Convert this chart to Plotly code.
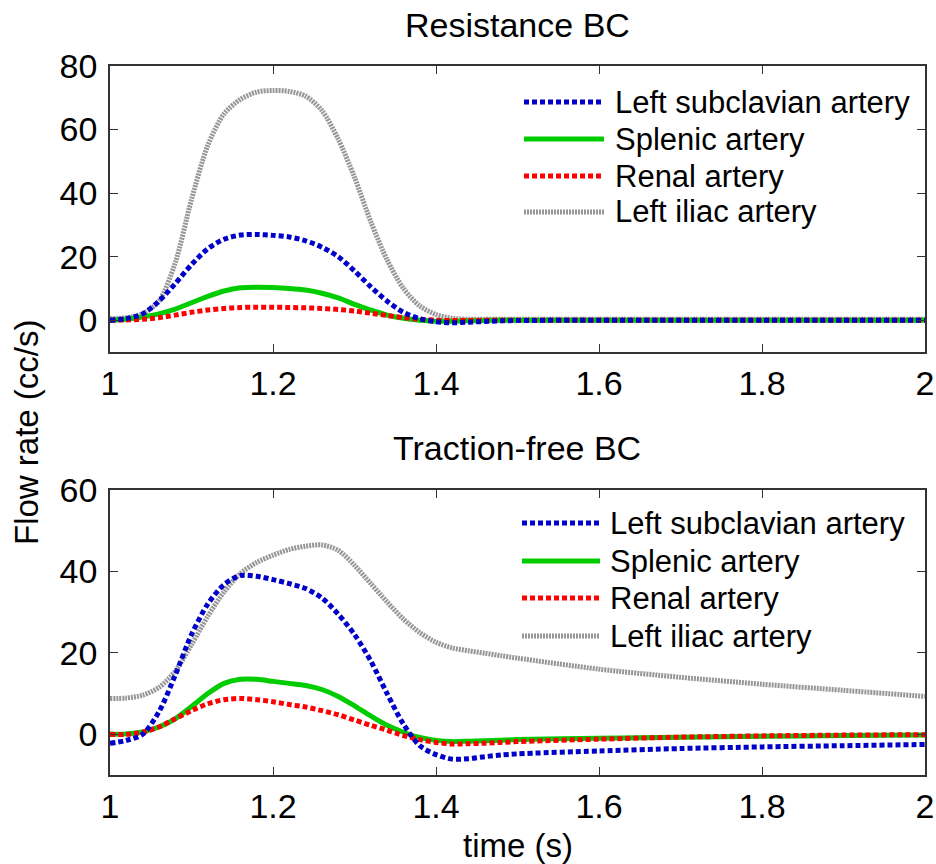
import plotly.graph_objects as go

# Sample times (s) shared by every series
time_s = [1.00, 1.02, 1.04, 1.06, 1.08, 1.10, 1.12, 1.14, 1.16, 1.18, 1.20,
          1.22, 1.24, 1.26, 1.28, 1.30, 1.32, 1.34, 1.36, 1.38, 1.40, 1.42,
          1.44, 1.46, 1.48, 1.50, 1.60, 1.70, 1.80, 1.90, 2.00]

series_names = ["Left subclavian artery", "Splenic artery", "Renal artery", "Left iliac artery"]

# Resistance BC flow rates (cc/s)
res_subclavian = [0, 0.5, 2, 6, 11.5, 17.5, 22.5, 25.5, 26.8, 27, 26.7,
                  26.2, 25, 23, 20, 15.5, 10.5, 6, 2.5, 0.5, -0.5, -0.8,
                  -0.6, -0.4, -0.2, -0.1, 0, 0, 0, 0, 0]
res_splenic = [0, 0.3, 1, 2, 3.5, 5.5, 7.5, 9.2, 10.2, 10.4, 10.3,
               10, 9.5, 8.5, 7, 5, 3.2, 1.6, 0.6, 0, -0.3, -0.3,
               -0.2, -0.1, 0, 0, 0, 0, 0, 0, 0]
res_renal = [0, 0.1, 0.3, 0.8, 1.6, 2.5, 3.2, 3.7, 4, 4.1, 4.1,
             4, 3.9, 3.7, 3.4, 2.9, 2.2, 1.5, 0.8, 0.3, 0, -0.1,
             -0.1, 0, 0, 0, 0, 0, 0, 0, 0]
res_iliac = [0.5, 0.8, 2, 6, 18, 38, 55, 65, 69.5, 71.8, 72.3,
             72, 70.5, 66, 57, 45, 31, 19, 10, 4.5, 1.8, 0.6,
             0.3, 0.3, 0.3, 0.3, 0.3, 0.3, 0.3, 0.3, 0.3]

# Traction-free BC flow rates (cc/s)
tf_subclavian = [-2.2, -1.5, 0, 5.5, 14.5, 24.5, 32, 36.8, 39, 38.8, 38,
                 37, 35.8, 33.5, 29.5, 24.5, 18, 10, 2.5, -2.8, -5, -6.1,
                 -6, -5.5, -5.1, -4.8, -4.1, -3.5, -3.1, -2.8, -2.5]
tf_splenic = [0, 0.1, 0.6, 1.8, 3.8, 6.8, 10, 12.5, 13.5, 13.5, 13,
              12.5, 12, 11, 9.3, 7, 4.5, 2.2, 0.5, -0.8, -1.5, -1.8,
              -1.7, -1.6, -1.45, -1.3, -1.0, -0.7, -0.5, -0.3, -0.2]
tf_renal = [0, 0, 0.5, 1.8, 3.8, 5.8, 7.5, 8.5, 8.8, 8.5, 8,
            7.3, 6.7, 5.8, 4.8, 3.5, 2.2, 1, -0.3, -1.3, -2, -2.4,
            -2.3, -2.2, -2.0, -1.8, -1.2, -0.7, -0.4, -0.2, -0.1]
tf_iliac = [8.8, 8.9, 9.6, 11.5, 15.5, 22, 29, 35, 39.5, 42.2, 44,
            45.4, 46.2, 46.5, 45.2, 41.5, 37, 32.5, 28.3, 25, 22.6, 21.2,
            20.5, 19.9, 19.3, 18.7, 16, 14, 12.3, 10.8, 9.3]

x_ticks = [1, 1.2, 1.4, 1.6, 1.8, 2]
x_tick_text = ["1", "1.2", "1.4", "1.6", "1.8", "2"]
y_ticks_res = [0, 20, 40, 60, 80]
y_ticks_tf = [0, 20, 40, 60]

FONT = "Liberation Sans, Arial, sans-serif"
AXIS_COLOR = "#333333"

styles = {
    "Left subclavian artery": dict(color="rgb(0,0,200)", width=5, dash="5px,3px"),
    "Splenic artery": dict(color="rgb(0,204,0)", width=5, dash="solid"),
    "Renal artery": dict(color="rgb(255,0,0)", width=5, dash="5px,3px"),
    "Left iliac artery": dict(color="rgb(150,150,150)", width=5, dash="2px,1px"),
}

panels = [
    ("x", "y", {"Left subclavian artery": res_subclavian, "Splenic artery": res_splenic,
                "Renal artery": res_renal, "Left iliac artery": res_iliac}),
    ("x2", "y2", {"Left subclavian artery": tf_subclavian, "Splenic artery": tf_splenic,
                  "Renal artery": tf_renal, "Left iliac artery": tf_iliac}),
]

fig = go.Figure()
draw_order = ["Left iliac artery", "Splenic artery", "Renal artery", "Left subclavian artery"]
for xa, ya, data in panels:
    for name in draw_order:
        fig.add_trace(go.Scatter(
            x=time_s, y=data[name], name=name, mode="lines",
            line=dict(shape="spline", smoothing=0.8, **styles[name]),
            xaxis=xa, yaxis=ya, showlegend=False,
        ))

W, H = 936, 864


def px(x):
    return x / W


def py(y):
    return 1 - y / H


axis_common = dict(
    showline=True, mirror="ticks", linecolor=AXIS_COLOR, linewidth=1.5,
    ticks="inside", ticklen=8, tickwidth=1.2, tickcolor=AXIS_COLOR,
    showgrid=False, zeroline=False, automargin=False,
    tickfont=dict(family=FONT, size=34, color="black"),
)

fig.update_layout(
    width=W, height=H,
    margin=dict(l=0, r=0, t=0, b=0),
    paper_bgcolor="white", plot_bgcolor="white",
    font=dict(family=FONT, color="black"),
    xaxis=dict(domain=[px(110), px(925)], range=[1, 2], anchor="y",
               tickvals=x_ticks, ticktext=x_tick_text, **axis_common),
    yaxis=dict(domain=[py(352), py(66)], range=[-10, 80], anchor="x",
               tickvals=y_ticks_res, ticklabelstandoff=4, **axis_common),
    xaxis2=dict(domain=[px(110), px(925)], range=[1, 2], anchor="y2",
                tickvals=x_ticks, ticktext=x_tick_text, **axis_common),
    yaxis2=dict(domain=[py(775), py(490)], range=[-10, 60], anchor="x2",
                tickvals=y_ticks_tf, ticklabelstandoff=4, **axis_common),
)

annotations = [
    dict(text="Resistance BC", x=px(517), y=py(25), size=34),
    dict(text="Traction-free BC", x=px(517), y=py(448), size=34),
    dict(text="time (s)", x=px(518), y=py(845), size=33),
]
for a in annotations:
    fig.add_annotation(text=a["text"], x=a["x"], y=a["y"], xref="paper", yref="paper",
                       xanchor="center", yanchor="middle", showarrow=False,
                       font=dict(family=FONT, size=a["size"], color="black"))

fig.add_annotation(text="Flow rate (cc/s)", x=px(26), y=py(432), xref="paper", yref="paper",
                   xanchor="center", yanchor="middle", showarrow=False, textangle=-90,
                   font=dict(family=FONT, size=33, color="black"))

# Legend boxes drawn as sample lines plus labels
legend_layouts = [
    dict(x0=524, x1=604, tx=613, ys=[102, 139, 176, 212]),
    dict(x0=522, x1=600, tx=608, ys=[523, 561, 598, 636]),
]
for lg in legend_layouts:
    for name, yy in zip(series_names, lg["ys"]):
        st = styles[name]
        fig.add_shape(type="line", xref="paper", yref="paper",
                      x0=px(lg["x0"]), x1=px(lg["x1"]), y0=py(yy), y1=py(yy),
                      line=dict(color=st["color"], width=st["width"], dash=st["dash"]))
        fig.add_annotation(text=name, x=px(lg["tx"]), y=py(yy), xref="paper", yref="paper",
                           xanchor="left", yanchor="middle", showarrow=False,
                           font=dict(family=FONT, size=31, color="black"))

fig.write_html("out.html")
